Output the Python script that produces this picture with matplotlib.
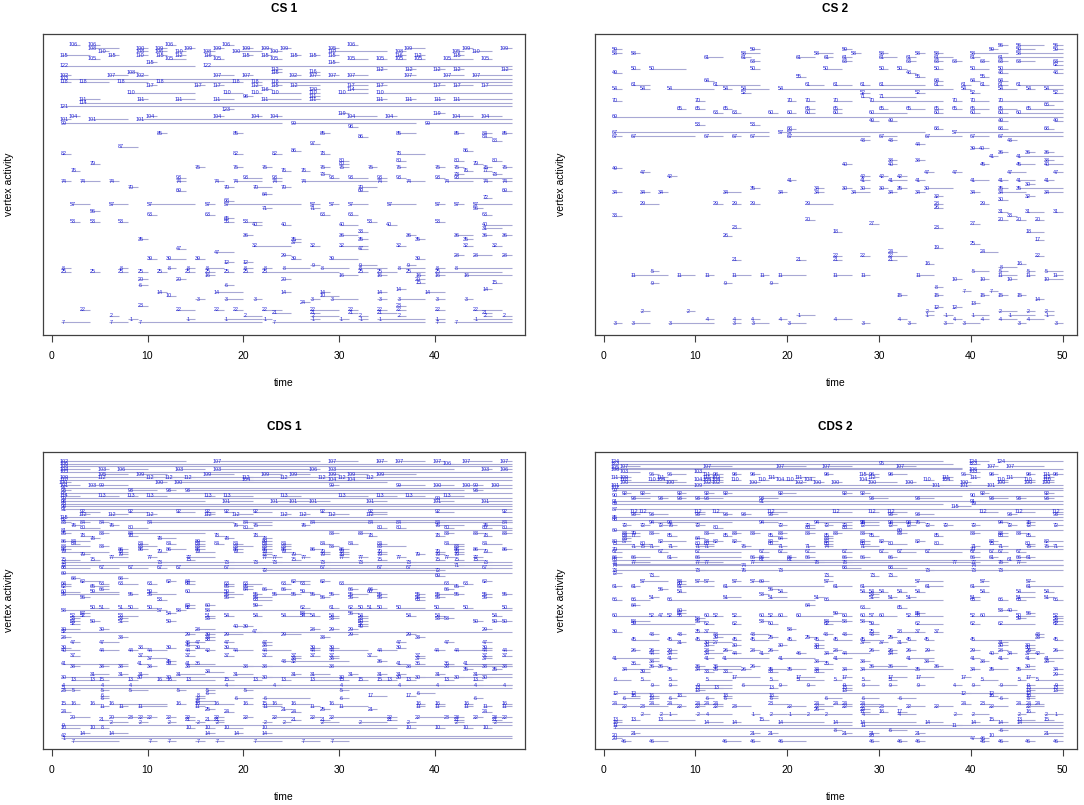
import matplotlib
matplotlib.use('Agg')
import matplotlib.pyplot as plt
from matplotlib.collections import LineCollection

plt.rcParams['font.family'] = ['Liberation Sans', 'DejaVu Sans']

W, H = 1084, 805

# spells: (row from top, vertex id, onset, terminus)
cs1_spells = [
    (0, 106, 2, 3), (0, 106, 4, 5), (0, 106, 12, 13), (0, 106, 18, 19), (0, 106, 31, 32),
    (1, 108, 4, 7), (1, 100, 9, 10), (1, 109, 11, 12), (1, 109, 14, 15), (1, 109, 17, 18), (1, 109, 20, 21),
    (1, 109, 22, 23), (1, 109, 24, 25), (1, 105, 29, 30), (1, 109, 37, 39), (1, 109, 43, 44), (1, 109, 47, 48),
    (1.9, 110, 5, 6), (1.9, 108, 9, 10), (1.9, 106, 11, 12), (1.9, 110, 13, 14), (1.9, 108, 16, 17), (1.9, 100, 19, 22),
    (1.9, 100, 23, 24), (1.9, 110, 29, 35), (1.9, 108, 36, 37), (1.9, 105, 42, 43), (1.9, 110, 44, 46),
    (3, 115, 1, 4), (3, 115, 6, 7), (3, 110, 9, 10), (3, 115, 11, 12), (3, 112, 13, 14), (3, 116, 16, 17),
    (3, 115, 20, 21), (3, 115, 22, 23), (3, 115, 25, 26), (3, 115, 27, 28), (3, 115, 29, 30), (3, 116, 36, 37),
    (3, 112, 38, 39), (3, 115, 42, 43),
    (4, 105, 4, 5), (4, 105, 12, 14), (4, 105, 17, 18), (4, 105, 23, 24), (4, 105, 31, 33), (4, 105, 34, 35),
    (4, 105, 36, 37), (4, 105, 38, 39), (4, 105, 41, 44), (4, 105, 45, 46),
    (5, 115, 10, 11), (5, 115, 29, 30),
    (6, 122, 1, 15), (6, 122, 16, 48),
    (7.1, 112, 23, 24), (7.1, 112, 34, 35), (7.1, 112, 37, 38), (7.1, 112, 40, 41), (7.1, 112, 42, 43), (7.1, 112, 47, 48),
    (8, 116, 23, 24), (7.8, 116, 27, 28), (8, 108, 8, 9),
    (8.8, 102, 1, 2), (8.8, 107, 6, 8), (8.8, 102, 9, 10), (8.8, 107, 17, 19), (8.8, 107, 20, 21), (8.8, 102, 25, 26),
    (8.8, 107, 27, 28), (8.8, 107, 29, 30), (8.8, 107, 31, 33), (8.8, 107, 37, 38), (8.8, 107, 41, 43), (8.8, 107, 44, 48),
    (9.8, 103, 1, 48),
    (10.8, 118, 1, 2), (10.8, 118, 3, 6), (10.8, 118, 7, 10), (10.8, 118, 11, 19), (10.8, 118, 19, 20), (10.8, 118, 21, 22),
    (10.8, 118, 23, 48),
    (11.8, 117, 10, 11), (11.8, 117, 15, 16), (11.8, 117, 17, 18), (11.8, 112, 21, 22), (11.8, 115, 23, 24), (11.8, 112, 25, 28),
    (11.8, 117, 31, 33), (11.8, 117, 34, 35), (11.8, 117, 40, 41), (11.8, 117, 42, 44), (11.8, 117, 45, 48),
    (12.9, 116, 22, 23), (12.9, 120, 27, 28), (12.9, 114, 31, 33),
    (13.9, 110, 8, 15), (13.9, 110, 18, 20), (13.9, 110, 21, 22), (13.9, 110, 23, 26), (13.9, 110, 27, 28), (13.9, 110, 30, 33),
    (13.9, 110, 34, 48),
    (15, 98, 20, 21), (15, 111, 27, 28),
    (15.9, 111, 3, 5), (15.9, 111, 9, 10), (15.9, 111, 13, 15), (15.9, 111, 17, 19), (15.9, 111, 22, 26), (15.9, 111, 27, 28),
    (15.9, 111, 34, 35), (15.9, 111, 37, 38), (15.9, 111, 40, 41), (15.9, 111, 42, 48),
    (16.8, 114, 3, 48),
    (17.9, 121, 1, 48),
    (18.8, 123, 18, 19),
    (19.9, 119, 30, 31), (19.9, 119, 40, 41),
    (20.8, 104, 2, 3), (20.8, 104, 10, 11), (20.8, 104, 17, 18), (20.8, 104, 21, 22), (20.8, 104, 23, 24), (20.8, 104, 31, 34),
    (20.8, 104, 35, 36), (20.8, 104, 42, 44), (20.8, 104, 45, 47),
    (21.7, 101, 1, 2), (21.7, 101, 4, 8), (21.7, 101, 9, 48),
    (22.8, 99, 1, 24), (22.8, 99, 25, 38), (22.8, 99, 39, 48),
    (23.8, 98, 31, 32),
    (25.8, 85, 11, 12), (25.8, 85, 19, 20), (25.8, 85, 28, 29), (25.8, 85, 36, 38), (25.8, 85, 42, 43), (25.8, 84, 45, 46),
    (25.8, 85, 47, 48),
    (26.8, 86, 32, 33), (26.8, 84, 45, 46),
    (27.9, 88, 46, 47),
    (28.8, 97, 27, 28),
    (29.7, 87, 7, 9),
    (30.8, 86, 25, 26), (30.8, 86, 43, 44),
    (31.7, 82, 1, 2), (31.7, 82, 19, 20), (31.7, 82, 23, 24), (31.7, 78, 28, 29), (31.7, 78, 36, 39),
    (33.7, 80, 30, 31), (33.7, 80, 36, 37), (33.7, 80, 42, 43), (33.7, 80, 46, 47),
    (34.7, 79, 4, 5), (34.7, 80, 30, 31), (34.7, 79, 44, 45),
    (35.7, 75, 15, 16), (35.7, 75, 19, 20), (35.7, 75, 22, 23), (35.7, 75, 28, 29), (35.7, 75, 30, 31), (35.7, 75, 33, 34),
    (35.7, 75, 36, 37), (35.7, 75, 40, 41), (35.7, 75, 42, 43), (35.7, 75, 45, 46), (35.7, 75, 47, 48),
    (36.7, 76, 2, 3), (36.7, 76, 24, 25), (36.7, 76, 26, 27), (36.7, 76, 43, 44), (36.7, 77, 45, 46),
    (37.7, 73, 28, 29), (37.7, 73, 42, 43), (37.7, 73, 46, 47),
    (38.7, 93, 13, 14), (38.7, 93, 20, 22), (38.7, 93, 23, 24), (38.7, 93, 29, 30), (38.7, 93, 31, 33), (38.7, 93, 34, 35),
    (38.7, 93, 36, 37), (38.7, 93, 40, 41), (38.7, 93, 42, 48),
    (39.7, 74, 1, 2), (39.7, 74, 3, 5), (39.7, 74, 6, 7), (39.7, 74, 13, 14), (39.7, 74, 17, 18), (39.7, 74, 19, 22),
    (39.7, 74, 23, 24), (39.7, 74, 26, 34), (39.7, 74, 34, 35), (39.7, 74, 37, 39), (39.7, 74, 41, 44), (39.7, 74, 45, 46),
    (39.7, 74, 47, 48),
    (41.5, 70, 8, 9), (41.5, 70, 18, 19), (41.5, 70, 21, 23), (41.5, 70, 24, 25), (41.5, 70, 32, 34),
    (42.5, 69, 13, 14), (42.5, 69, 32, 33), (42.5, 69, 47, 48),
    (43.5, 64, 22, 23),
    (44.6, 72, 45, 46),
    (45.5, 68, 18, 19),
    (46.5, 57, 2, 4), (46.5, 57, 6, 8), (46.5, 57, 10, 15), (46.5, 57, 16, 17), (46.5, 57, 18, 26), (46.5, 57, 27, 28),
    (46.5, 57, 29, 30), (46.5, 57, 31, 33), (46.5, 57, 35, 38), (46.5, 57, 40, 41), (46.5, 57, 42, 43), (46.5, 57, 44, 48),
    (47.6, 71, 22, 23), (47.6, 71, 27, 28), (47.6, 56, 44, 45),
    (48.5, 56, 4, 5),
    (49.5, 63, 10, 11), (49.5, 63, 16, 17), (49.5, 63, 28, 29), (49.5, 63, 31, 32), (49.5, 63, 45, 46),
    (50.5, 65, 18, 19),
    (51.5, 53, 2, 3), (51.5, 53, 4, 5), (51.5, 53, 7, 8), (51.5, 55, 18, 19), (51.5, 53, 20, 22), (51.5, 53, 33, 34),
    (51.5, 53, 40, 41),
    (52.5, 40, 21, 22), (52.5, 40, 24, 25), (52.5, 40, 30, 32), (52.5, 40, 35, 36), (52.5, 40, 45, 48),
    (53.5, 31, 45, 47),
    (54.5, 33, 32, 33),
    (55.5, 36, 20, 21), (55.5, 36, 30, 32), (55.5, 36, 37, 38), (55.5, 36, 42, 44), (55.5, 36, 45, 46), (55.5, 36, 47, 48),
    (56.6, 35, 9, 10), (56.6, 35, 25, 26), (56.6, 35, 32, 33), (56.6, 35, 38, 39), (56.6, 35, 43, 44),
    (57.6, 37, 25, 26),
    (58.5, 32, 21, 25), (58.5, 32, 27, 28), (58.5, 32, 30, 33), (58.5, 32, 36, 37), (58.5, 32, 43, 44), (58.5, 32, 46, 47),
    (59.5, 47, 13, 14), (59.5, 47, 32, 33),
    (60.5, 47, 17, 19),
    (61.4, 29, 24, 25), (61.4, 28, 42, 43), (61.4, 28, 44, 46), (61.4, 28, 47, 48),
    (62.3, 39, 10, 11), (62.3, 39, 12, 14), (62.3, 39, 15, 16), (62.3, 39, 25, 26), (62.3, 39, 29, 32), (62.3, 39, 38, 39),
    (63.4, 12, 18, 19), (63.4, 12, 20, 21),
    (64.2, 9, 27, 28), (64.2, 9, 32, 34), (64.2, 9, 37, 38),
    (65.2, 8, 1, 2), (65.2, 8, 7, 8), (65.2, 8, 12, 13), (65.2, 8, 14, 15), (65.2, 8, 16, 18), (65.2, 8, 20, 21),
    (65.2, 8, 22, 23), (65.2, 8, 24, 27), (65.2, 8, 28, 31), (65.2, 8, 32, 35), (65.2, 8, 36, 39), (65.2, 8, 40, 41),
    (65.2, 8, 42, 48),
    (66.2, 25, 1, 2), (66.2, 25, 4, 5), (66.2, 25, 7, 8), (66.2, 25, 9, 10), (66.2, 25, 11, 12), (66.2, 25, 14, 15),
    (66.2, 25, 16, 17), (66.2, 25, 18, 19), (66.2, 25, 20, 21), (66.2, 25, 22, 30), (66.2, 25, 32, 33), (66.2, 25, 34, 36),
    (66.2, 25, 37, 39), (66.2, 25, 40, 47),
    (67.2, 16, 16, 17), (67.2, 16, 30, 32), (67.2, 16, 34, 35), (67.2, 16, 38, 39), (67.2, 16, 40, 41), (67.2, 16, 43, 48),
    (68.3, 20, 9, 10), (68.3, 20, 13, 14), (68.3, 20, 24, 25), (68.3, 20, 38, 39),
    (69.3, 15, 38, 39), (69.3, 15, 46, 47),
    (70.1, 6, 9, 10), (70.1, 6, 18, 19),
    (71.2, 14, 36, 37), (71.2, 14, 45, 46),
    (72.2, 14, 11, 12), (72.2, 14, 17, 20), (72.2, 14, 24, 25), (72.2, 14, 28, 29), (72.2, 14, 34, 35), (72.2, 14, 39, 41),
    (73.1, 10, 12, 13), (73.1, 10, 28, 30),
    (74.1, 3, 15, 16), (74.1, 3, 18, 20), (74.1, 3, 21, 22), (74.1, 3, 27, 28), (74.1, 3, 29, 32), (74.1, 3, 34, 35),
    (74.1, 3, 36, 39), (74.1, 3, 40, 41), (74.1, 3, 43, 44),
    (75.1, 24, 26, 27),
    (76.1, 23, 9, 10), (76.1, 23, 36, 37),
    (77.2, 22, 3, 4), (77.2, 22, 13, 15), (77.2, 22, 17, 18), (77.2, 22, 19, 20), (77.2, 22, 22, 24), (77.2, 22, 27, 30),
    (77.2, 22, 31, 32), (77.2, 22, 34, 35), (77.2, 22, 36, 37), (77.2, 22, 40, 41), (77.2, 22, 44, 47),
    (78.1, 21, 23, 25), (78.1, 21, 27, 28), (78.1, 21, 31, 32), (78.1, 21, 34, 36), (78.1, 21, 45, 46),
    (79, 2, 6, 7), (79, 2, 20, 22), (79, 2, 27, 30), (79, 2, 32, 33), (79, 2, 36, 37), (79, 2, 45, 46), (79, 2, 47, 48),
    (80, 1, 8, 9), (80, 1, 14, 15), (80, 1, 18, 22), (80, 1, 22, 23), (80, 1, 27, 28), (80, 1, 30, 31), (80, 1, 32, 33),
    (80, 1, 34, 39), (80, 1, 40, 41), (80, 1, 44, 48),
    (80.9, 7, 1, 4), (80.9, 7, 6, 8), (80.9, 7, 9, 22), (80.9, 7, 23, 39), (80.9, 7, 40, 41), (80.9, 7, 42, 48),
]

cs2_spells = [
    (0, 56, 43, 44), (0, 56, 45, 48), (0, 56, 49, 50),
    (1, 59, 1, 2), (1, 59, 16, 17), (1, 59, 26, 27), (1, 59, 42, 43), (1, 59, 45, 47), (1, 59, 49, 50),
    (2, 58, 1, 2), (2, 58, 3, 4), (2, 58, 15, 17), (2, 58, 23, 25), (2, 58, 27, 28), (2, 58, 30, 31), (2, 58, 34, 35),
    (2, 58, 36, 37), (2, 58, 40, 44), (2, 58, 45, 50),
    (3, 61, 11, 13), (3, 61, 15, 16), (3, 61, 21, 23), (3, 61, 24, 25), (3, 61, 26, 27), (3, 61, 30, 32), (3, 61, 33, 34),
    (3, 61, 36, 38), (3, 61, 40, 41), (3, 61, 43, 50),
    (4, 63, 16, 17), (4, 63, 26, 27), (4, 63, 33, 34), (4, 63, 36, 37), (4, 63, 38, 39), (4, 63, 41, 42), (4, 63, 43, 44),
    (4, 63, 45, 47), (4, 63, 49, 50),
    (5, 62, 49, 50),
    (6, 50, 3, 4), (6, 50, 5, 9), (6, 50, 16, 17), (6, 50, 24, 26), (6, 50, 30, 31), (6, 50, 32, 33), (6, 50, 36, 37),
    (6, 50, 40, 42), (6, 50, 43, 50),
    (7, 49, 1, 2), (7, 48, 33, 34), (7, 48, 43, 44), (7, 48, 49, 50),
    (8, 55, 21, 22), (8, 55, 34, 35), (8, 55, 41, 42),
    (9, 64, 11, 12), (9, 64, 36, 37), (9, 64, 40, 41), (9, 64, 43, 44),
    (10, 61, 3, 5), (10, 61, 12, 17), (10, 61, 22, 24), (10, 61, 25, 27), (10, 61, 28, 29), (10, 61, 30, 35),
    (10, 61, 36, 37), (10, 61, 39, 40), (10, 61, 41, 42), (10, 61, 43, 44), (10, 61, 45, 50),
    (11, 54, 1, 2), (11, 54, 4, 5), (11, 54, 7, 12), (11, 54, 13, 14), (11, 54, 15, 18), (11, 54, 19, 38),
    (11, 54, 39, 40), (11, 54, 43, 45), (11, 54, 46, 47), (11, 54, 48, 50),
    (12, 52, 15, 16), (12, 52, 28, 29), (12, 52, 34, 35), (12, 52, 40, 41), (12, 52, 49, 50),
    (13, 71, 28, 29), (13, 71, 30, 34),
    (14, 70, 1, 2), (14, 70, 10, 11), (14, 70, 20, 21), (14, 70, 22, 23), (14, 70, 25, 27), (14, 70, 29, 37),
    (14, 70, 38, 39), (14, 70, 40, 42), (14, 70, 43, 50),
    (15, 66, 48, 49),
    (16, 65, 8, 9), (16, 65, 10, 11), (16, 65, 13, 14), (16, 65, 22, 23), (16, 65, 25, 26), (16, 65, 30, 31),
    (16, 65, 33, 35), (16, 65, 36, 37), (16, 65, 38, 39), (16, 65, 40, 42), (16, 65, 43, 45), (16, 65, 46, 50),
    (17, 63, 12, 13), (17, 63, 14, 15), (17, 60, 18, 19), (17, 60, 20, 21), (17, 60, 22, 23), (17, 60, 25, 26),
    (17, 60, 29, 33), (17, 60, 36, 37), (17, 60, 40, 41), (17, 60, 43, 44), (17, 60, 45, 50),
    (18, 69, 1, 50),
    (19, 49, 29, 30), (19, 49, 31, 32), (19, 49, 43, 44), (19, 49, 49, 50),
    (20, 53, 10, 11), (20, 53, 16, 17),
    (21, 68, 20, 21), (21, 68, 36, 37), (21, 68, 43, 44), (21, 68, 48, 49),
    (22, 67, 1, 18), (22, 57, 19, 20), (22, 57, 20, 35), (22, 57, 38, 50),
    (23, 67, 1, 2), (23, 67, 3, 10), (23, 67, 11, 13), (23, 67, 14, 15), (23, 67, 16, 18), (23, 67, 20, 29),
    (23, 67, 30, 32), (23, 67, 35, 39), (23, 67, 40, 42), (23, 67, 43, 50),
    (24, 43, 28, 29), (24, 43, 31, 32), (24, 43, 44, 45),
    (25, 44, 34, 35),
    (26, 39, 40, 41), (26, 40, 41, 42),
    (27, 36, 43, 44), (27, 36, 46, 47), (27, 36, 48, 49),
    (28, 41, 42, 43), (28, 41, 45, 50),
    (29, 38, 31, 32), (29, 38, 34, 35), (29, 38, 48, 49),
    (30, 40, 26, 27), (30, 40, 31, 32), (30, 45, 41, 42), (30, 45, 45, 47), (30, 40, 48, 50),
    (31, 49, 1, 2),
    (32, 47, 4, 5), (32, 47, 35, 36), (32, 47, 38, 39), (32, 47, 44, 46), (32, 47, 49, 50),
    (33, 42, 7, 8), (33, 42, 28, 29), (33, 42, 30, 31), (33, 42, 32, 33),
    (34, 41, 20, 21), (34, 41, 28, 29), (34, 41, 31, 33), (34, 41, 34, 35), (34, 41, 40, 42), (34, 41, 43, 44),
    (34, 41, 45, 47), (34, 41, 48, 49),
    (35, 30, 46, 47),
    (36, 35, 16, 17), (36, 34, 23, 24), (36, 30, 26, 27), (36, 30, 28, 29), (36, 30, 30, 31), (36, 35, 32, 33),
    (36, 30, 35, 38), (36, 35, 43, 44), (36, 35, 45, 50),
    (37, 34, 1, 2), (37, 34, 4, 5), (37, 34, 6, 7), (37, 34, 13, 15), (37, 34, 19, 20), (37, 34, 23, 24),
    (37, 34, 27, 29), (37, 34, 31, 32), (37, 34, 34, 35), (37, 34, 40, 41), (37, 34, 43, 46), (37, 34, 48, 50),
    (38, 32, 36, 37), (38, 32, 46, 47),
    (39, 30, 43, 44),
    (40, 29, 4, 6), (40, 29, 12, 13), (40, 29, 14, 15), (40, 29, 16, 17), (40, 29, 22, 25), (40, 28, 36, 37),
    (40, 29, 41, 42),
    (41, 26, 36, 37),
    (42, 31, 43, 44), (42, 31, 46, 48), (42, 31, 49, 50),
    (43, 33, 1, 2), (43, 33, 44, 45),
    (44, 20, 22, 23), (44, 20, 43, 44), (44, 20, 45, 46), (44, 20, 47, 48),
    (45, 27, 29, 30), (45, 27, 40, 41),
    (46, 23, 14, 15), (46, 23, 36, 37),
    (47, 18, 25, 26), (47, 18, 46, 48),
    (48, 26, 13, 14),
    (49, 17, 47, 48),
    (50, 25, 40, 41),
    (51, 19, 36, 37),
    (52, 24, 41, 43), (52, 24, 31, 32),
    (53, 22, 25, 26), (53, 22, 28, 29), (53, 22, 31, 33), (53, 22, 47, 48),
    (54, 21, 14, 15), (54, 21, 21, 22), (54, 21, 25, 26), (54, 21, 31, 32),
    (55, 16, 35, 36), (55, 16, 45, 46),
    (56, 8, 43, 45),
    (57, 5, 5, 6), (57, 5, 40, 42), (57, 5, 43, 44), (57, 5, 46, 47), (57, 5, 48, 50),
    (58, 11, 3, 7), (58, 11, 8, 10), (58, 11, 11, 12), (58, 11, 14, 16), (58, 11, 17, 18), (58, 11, 19, 22),
    (58, 11, 25, 27), (58, 11, 28, 29), (58, 11, 34, 36), (58, 11, 43, 45), (58, 11, 46, 47), (58, 11, 49, 50),
    (59, 10, 38, 39), (59, 10, 41, 42), (59, 10, 44, 45), (59, 10, 48, 50),
    (60, 9, 5, 6), (60, 9, 13, 14), (60, 9, 18, 19),
    (61, 8, 36, 37),
    (62, 7, 39, 40), (62, 7, 42, 43),
    (63, 15, 32, 33), (63, 15, 36, 37), (63, 15, 41, 42), (63, 15, 43, 44), (63, 15, 45, 46),
    (64, 14, 47, 48),
    (65, 13, 40, 41),
    (66, 12, 36, 37), (66, 12, 38, 39),
    (67, 2, 4, 5), (67, 2, 9, 10), (67, 2, 35, 36), (67, 2, 43, 45), (67, 2, 46, 47), (67, 2, 48, 49),
    (68, 1, 21, 23), (68, 1, 35, 36), (68, 1, 37, 38), (68, 1, 40, 42), (68, 1, 44, 47), (68, 1, 48, 49),
    (69, 4, 11, 12), (69, 4, 14, 15), (69, 4, 16, 17), (69, 4, 19, 20), (69, 4, 25, 27), (69, 4, 32, 33),
    (69, 4, 38, 39), (69, 4, 41, 42), (69, 4, 43, 45), (69, 4, 46, 48),
    (70, 3, 1, 2), (70, 3, 3, 5), (70, 3, 7, 12), (70, 3, 14, 15), (70, 3, 16, 18), (70, 3, 20, 22), (70, 3, 28, 29),
    (70, 3, 33, 34), (70, 3, 37, 38), (70, 3, 39, 41), (70, 3, 45, 46), (70, 3, 49, 50),
]

cds1_spells = [
    (0, 102, 1, 14), (0, 107, 17, 28), (0, 107, 29, 32), (0, 107, 34, 35), (0, 107, 36, 39), (0, 107, 40, 41),
    (0, 107, 43, 46), (0, 107, 47, 48),
    (1, 106, 1, 48), (1, 106, 41, 42),
    (2, 108, 1, 48),
    (3, 104, 1, 4), (3, 103, 5, 6), (3, 106, 7, 10), (3, 103, 13, 16), (3, 103, 17, 27), (3, 106, 27, 28),
    (3, 103, 29, 42), (3, 103, 45, 46), (3, 106, 47, 48),
    (4, 105, 1, 48),
    (5, 105, 5, 8), (5, 109, 9, 12), (5, 109, 16, 19), (5, 109, 22, 24), (5, 109, 25, 27), (5, 109, 29, 30),
    (5, 109, 31, 33), (5, 109, 34, 38),
    (6, 109, 1, 48), (6, 112, 5, 6), (6, 112, 10, 11), (6, 112, 12, 13), (6, 112, 14, 15), (6, 112, 20, 21),
    (6, 112, 24, 25), (6, 112, 28, 29), (6, 112, 30, 31), (6, 112, 33, 34),
    (7, 110, 1, 48), (7, 104, 20, 21), (7, 104, 29, 30), (7, 104, 31, 32),
    (8, 100, 1, 2), (8, 100, 11, 12), (8, 100, 13, 35),
    (9, 101, 1, 3), (9, 103, 4, 5), (9, 99, 5, 8), (9, 99, 29, 30), (9, 99, 36, 39), (9, 100, 40, 42),
    (9, 100, 43, 44), (9, 99, 44, 45), (9, 100, 46, 48),
    (10, 97, 1, 48),
    (11, 93, 1, 2), (11, 93, 8, 11), (11, 93, 12, 13), (11, 93, 14, 43), (11, 93, 44, 45),
    (12, 96, 1, 48),
    (13, 114, 1, 3), (13, 113, 5, 7), (13, 113, 8, 9), (13, 113, 10, 12), (13, 113, 16, 17), (13, 113, 18, 21),
    (13, 113, 24, 26), (13, 113, 30, 33), (13, 113, 34, 36), (13, 113, 37, 39), (13, 113, 41, 43),
    (14, 99, 1, 48), (14, 99, 40, 41),
    (15, 98, 1, 16), (15, 101, 18, 21), (15, 101, 23, 25), (15, 101, 25, 27), (15, 101, 27, 29), (15, 101, 33, 35),
    (15, 101, 40, 42), (15, 101, 45, 48),
    (16, 95, 1, 48),
    (17, 94, 1, 48),
    (18, 91, 1, 48),
    (19, 92, 3, 5), (19, 92, 8, 10), (19, 92, 13, 15), (19, 92, 16, 17), (19, 92, 18, 19), (19, 92, 21, 23),
    (19, 92, 28, 29), (19, 92, 33, 35), (19, 92, 40, 42), (19, 92, 47, 48),
    (20, 112, 3, 4), (20, 112, 6, 8), (20, 112, 10, 11), (20, 112, 16, 17), (20, 112, 19, 21), (20, 112, 24, 25),
    (20, 112, 26, 27), (20, 112, 29, 31), (20, 112, 33, 35),
    (21, 115, 1, 48),
    (22, 82, 1, 48),
    (23, 83, 1, 2), (23, 84, 3, 4), (23, 84, 5, 6), (23, 84, 10, 19), (23, 84, 20, 23), (23, 84, 27, 48),
    (23, 84, 33, 34), (23, 84, 36, 37), (23, 84, 40, 41), (23, 84, 47, 48),
    (24, 76, 2, 3), (24, 76, 6, 7), (24, 76, 19, 20), (24, 75, 21, 23), (24, 76, 26, 27), (24, 76, 40, 43),
    (24, 76, 45, 47),
    (25, 80, 3, 5), (25, 80, 8, 10), (25, 80, 20, 21), (25, 80, 34, 35), (25, 80, 36, 37), (25, 80, 41, 42),
    (25, 80, 45, 46), (25, 80, 47, 48),
    (26, 81, 1, 48),
    (27, 85, 1, 2), (27, 83, 5, 6), (27, 84, 8, 16), (27, 83, 29, 30), (27, 83, 32, 33), (27, 83, 41, 42),
    (27, 83, 44, 45), (27, 83, 47, 48),
    (28, 78, 3, 4), (28, 78, 8, 9), (28, 78, 17, 18), (28, 78, 21, 22), (28, 78, 33, 34), (28, 78, 40, 41),
    (28, 78, 45, 46),
    (29, 78, 4, 5), (29, 78, 11, 13), (29, 78, 18, 19), (29, 78, 22, 23),
    (30, 86, 1, 4), (30, 84, 2, 3), (30, 89, 15, 16), (30, 89, 22, 23),
    (31, 84, 2, 3), (31, 84, 9, 10), (31, 84, 12, 13), (31, 84, 15, 16), (31, 84, 17, 18), (31, 84, 19, 20),
    (31, 84, 22, 23), (31, 84, 24, 25), (31, 84, 28, 29), (31, 84, 31, 32), (31, 84, 34, 35), (31, 84, 41, 43),
    (31, 84, 45, 47),
    (32, 88, 1, 4), (32, 83, 5, 6), (32, 83, 9, 11), (32, 83, 15, 16), (32, 83, 19, 21), (32, 83, 22, 23),
    (32, 83, 24, 25), (32, 83, 29, 30), (32, 83, 34, 37), (32, 83, 42, 43),
    (33, 86, 1, 2), (33, 86, 7, 8), (33, 86, 9, 10), (33, 86, 12, 14), (33, 86, 15, 16), (33, 86, 19, 20),
    (33, 86, 22, 23), (33, 86, 24, 25), (33, 86, 27, 28), (33, 86, 30, 31), (33, 86, 42, 43), (33, 86, 44, 45),
    (33, 86, 47, 48),
    (34, 79, 1, 6), (34, 79, 7, 8), (34, 79, 11, 12), (34, 79, 15, 17), (34, 79, 19, 20), (34, 79, 22, 23),
    (34, 79, 24, 25), (34, 79, 28, 29), (34, 79, 30, 31), (34, 79, 34, 35), (34, 79, 40, 41), (34, 79, 42, 43),
    (34, 79, 45, 46),
    (35, 79, 3, 4), (35, 79, 7, 8), (35, 77, 22, 23), (35, 79, 25, 26), (35, 79, 28, 29), (35, 79, 30, 31),
    (35, 79, 34, 35), (35, 79, 38, 39), (35, 79, 40, 41), (35, 79, 42, 43),
    (36, 77, 6, 8), (36, 77, 10, 11), (36, 77, 14, 17), (36, 77, 22, 23), (36, 77, 23, 24), (36, 77, 26, 27),
    (36, 77, 30, 31), (36, 77, 32, 33), (36, 77, 36, 37), (36, 77, 41, 42), (36, 77, 44, 45),
    (37, 75, 1, 3), (37, 75, 4, 5), (37, 75, 14, 15), (37, 75, 25, 26), (37, 75, 34, 35), (37, 75, 40, 41),
    (37, 75, 42, 43), (37, 75, 44, 45),
    (38, 73, 1, 48), (38, 73, 11, 12), (38, 73, 18, 19), (38, 73, 21, 22), (38, 73, 23, 24), (38, 73, 28, 29),
    (38, 73, 32, 33), (38, 73, 37, 38), (38, 73, 45, 46),
    (39, 72, 1, 48), (39, 71, 42, 43),
    (40, 68, 1, 4), (40, 67, 5, 7), (40, 67, 8, 10), (40, 67, 11, 12), (40, 67, 13, 48), (40, 67, 18, 19),
    (40, 67, 28, 29), (40, 67, 34, 35), (40, 67, 37, 38), (40, 67, 45, 46),
    (41, 72, 22, 40), (41, 72, 40, 41),
    (42, 69, 1, 48),
    (43, 69, 40, 41),
    (44, 68, 2, 3), (44, 68, 7, 8),
    (45, 62, 3, 5), (45, 62, 12, 13), (45, 64, 14, 15), (45, 62, 25, 27), (45, 62, 28, 29), (45, 62, 45, 46),
    (46, 64, 1, 2), (46, 63, 5, 6), (46, 63, 7, 9), (46, 63, 10, 11), (46, 64, 14, 15), (46, 63, 18, 19),
    (46, 63, 20, 22), (46, 63, 24, 25), (46, 63, 26, 27), (46, 63, 30, 41), (46, 63, 41, 42), (46, 63, 43, 44),
    (47, 62, 1, 2), (47, 65, 4, 6), (47, 65, 18, 19), (47, 65, 20, 21), (47, 65, 42, 43),
    (48, 66, 5, 6), (48, 66, 22, 23), (48, 66, 24, 25), (48, 66, 31, 32), (48, 66, 33, 34), (48, 66, 41, 42),
    (48, 64, 20, 21),
    (49, 60, 1, 3), (49, 59, 4, 7), (49, 59, 10, 11), (49, 60, 14, 18), (49, 59, 18, 19), (49, 59, 26, 27),
    (49, 60, 33, 34),
    (50, 55, 1, 7), (50, 55, 8, 9), (50, 55, 10, 13), (50, 55, 18, 20), (50, 55, 21, 22), (50, 55, 23, 25),
    (50, 55, 25, 26), (50, 55, 27, 28), (50, 55, 29, 30), (50, 55, 31, 33), (50, 55, 34, 35), (50, 55, 38, 39),
    (50, 55, 40, 42), (50, 55, 42, 43), (50, 55, 45, 46), (50, 55, 47, 48),
    (51, 56, 3, 4), (51, 56, 18, 19), (51, 56, 21, 23), (51, 56, 28, 29), (51, 56, 31, 32), (51, 56, 34, 35),
    (51, 56, 38, 39), (51, 56, 40, 41), (51, 56, 45, 46),
    (52, 53, 11, 12), (52, 63, 21, 23), (52, 65, 38, 39),
    (54, 59, 21, 22), (54, 62, 14, 15), (54, 60, 16, 17),
    (55, 50, 4, 5), (55, 51, 5, 6), (55, 51, 7, 8), (55, 50, 8, 9), (55, 50, 10, 11), (55, 62, 14, 15),
    (55, 62, 26, 27), (55, 61, 29, 30), (55, 62, 31, 32), (55, 50, 32, 33), (55, 51, 33, 34), (55, 50, 34, 35),
    (55, 50, 36, 39), (55, 50, 40, 42), (55, 50, 43, 44), (55, 50, 47, 48),
    (56, 58, 1, 11), (56, 57, 11, 12), (56, 58, 13, 14), (56, 58, 16, 48),
    (57, 57, 3, 4), (57, 54, 12, 13), (57, 58, 26, 27), (57, 56, 31, 32),
    (58, 52, 2, 3), (58, 52, 3, 4), (58, 53, 7, 9), (58, 51, 16, 17), (58, 54, 18, 19), (58, 54, 21, 22),
    (58, 54, 24, 26), (58, 54, 26, 27), (58, 54, 27, 28), (58, 54, 29, 30), (58, 54, 32, 33), (58, 54, 37, 38),
    (58, 54, 40, 41), (58, 54, 46, 47),
    (59, 53, 2, 3), (59, 53, 7, 8), (59, 53, 16, 17), (59, 53, 29, 30), (59, 53, 32, 33), (59, 53, 40, 41),
    (59, 53, 41, 42),
    (60, 53, 2, 3), (60, 50, 4, 5), (60, 51, 7, 8), (60, 50, 12, 13), (60, 50, 32, 33), (60, 50, 44, 45),
    (60, 50, 46, 47), (60, 50, 47, 48),
    (61, 52, 2, 3), (61, 52, 32, 33),
    (62, 49, 32, 33), (62, 40, 19, 20), (62, 39, 20, 21),
    (63, 30, 1, 3), (63, 30, 5, 6), (63, 28, 15, 17), (63, 28, 27, 28), (63, 29, 29, 30), (63, 29, 31, 32),
    (63, 29, 45, 46),
    (64, 32, 1, 48), (64, 47, 21, 22),
    (65, 29, 14, 15), (65, 39, 16, 17), (65, 29, 18, 20), (65, 29, 24, 26), (65, 29, 31, 32), (65, 29, 37, 38),
    (66, 28, 1, 2), (66, 33, 7, 8), (66, 33, 16, 17), (66, 33, 28, 29), (66, 33, 38, 39),
    (67, 38, 16, 17),
    (68, 47, 2, 3), (68, 47, 5, 7), (68, 46, 14, 15), (68, 47, 15, 16), (68, 47, 18, 19), (68, 47, 22, 23),
    (68, 47, 36, 37), (68, 47, 41, 42), (68, 47, 45, 46),
    (69, 45, 14, 15), (69, 38, 22, 23),
    (70, 39, 1, 2), (70, 38, 9, 10), (70, 39, 12, 13), (70, 39, 15, 16), (70, 39, 18, 19), (70, 39, 27, 28),
    (70, 39, 29, 30), (70, 39, 36, 37), (70, 39, 45, 46),
    (71, 40, 1, 3), (71, 44, 5, 7), (71, 44, 8, 9), (71, 44, 10, 12), (71, 44, 14, 15), (71, 42, 16, 17),
    (71, 44, 19, 21), (71, 44, 22, 25), (71, 44, 27, 28), (71, 44, 29, 33), (71, 44, 34, 36), (71, 44, 40, 41),
    (71, 44, 42, 45), (71, 44, 45, 46), (71, 44, 47, 48),
    (73, 37, 2, 3), (73, 37, 9, 10), (73, 37, 14, 15), (73, 37, 18, 19), (73, 37, 22, 23), (73, 37, 25, 26),
    (73, 37, 27, 28), (73, 37, 29, 30), (73, 37, 33, 34), (73, 37, 38, 39), (73, 37, 45, 46), (73, 37, 47, 48),
    (74, 37, 10, 12), (74, 38, 25, 26), (74, 38, 29, 30), (74, 37, 38, 39), (74, 37, 45, 46),
    (75, 43, 24, 25), (75, 32, 25, 31), (75, 35, 12, 13), (75, 36, 34, 35),
    (76, 41, 1, 8), (76, 41, 9, 10), (76, 39, 12, 13), (76, 41, 14, 15), (76, 36, 15, 17), (76, 41, 36, 37),
    (76, 36, 38, 39), (76, 36, 41, 42), (76, 41, 43, 48),
    (77, 38, 2, 3), (77, 38, 5, 6), (77, 38, 7, 8), (77, 38, 10, 11), (77, 38, 14, 48), (77, 38, 20, 21),
    (77, 38, 22, 23), (77, 38, 29, 35), (77, 38, 37, 38), (77, 38, 41, 42), (77, 38, 45, 46), (77, 38, 47, 48),
    (78, 35, 43, 44), (78, 35, 46, 47),
    (79, 34, 16, 18),
    (80, 31, 4, 6), (80, 31, 7, 8), (80, 31, 9, 10), (80, 31, 13, 16), (80, 31, 19, 21), (80, 31, 25, 26),
    (80, 31, 27, 29), (80, 31, 31, 32), (80, 31, 34, 35), (80, 31, 36, 37), (80, 31, 40, 41), (80, 31, 44, 48),
    (81, 30, 1, 48), (81, 30, 9, 10), (81, 30, 12, 13), (81, 30, 22, 23), (81, 30, 30, 31), (81, 30, 36, 37),
    (81, 30, 38, 39), (81, 30, 42, 43), (81, 30, 45, 46),
    (82, 13, 2, 4), (82, 13, 4, 5), (82, 15, 5, 6), (82, 13, 8, 9), (82, 16, 11, 12), (82, 16, 12, 13),
    (82, 13, 14, 17), (82, 15, 18, 19), (82, 13, 21, 22), (82, 13, 24, 25), (82, 13, 27, 30), (82, 15, 30, 31),
    (82, 15, 32, 33), (82, 15, 34, 35), (82, 13, 35, 36), (82, 13, 37, 38), (82, 13, 41, 42), (82, 13, 44, 45),
    (84, 4, 1, 48), (84, 4, 5, 6), (84, 4, 8, 9), (84, 4, 18, 19), (84, 4, 23, 24), (84, 4, 30, 31),
    (84, 4, 36, 37), (84, 4, 40, 41), (84, 4, 44, 45), (84, 4, 47, 48),
    (85, 5, 1, 48),
    (86, 23, 1, 2), (86, 5, 2, 3), (86, 5, 5, 6), (86, 5, 8, 10), (86, 5, 13, 14), (86, 5, 16, 17),
    (86, 5, 20, 21), (86, 5, 30, 31),
    (87, 6, 16, 17), (87, 6, 38, 40),
    (88, 6, 5, 6), (88, 8, 15, 16), (88, 17, 33, 35), (88, 17, 37, 38),
    (89, 6, 5, 6), (89, 6, 15, 16), (89, 6, 19, 21), (89, 6, 22, 27), (89, 6, 30, 31), (89, 6, 44, 45),
    (90, 15, 15, 17),
    (91, 15, 1, 2), (91, 16, 2, 3), (91, 16, 4, 5), (91, 16, 6, 12), (91, 16, 13, 14), (91, 16, 15, 17),
    (91, 16, 17, 19), (91, 16, 20, 21), (91, 15, 22, 23), (91, 16, 23, 24), (91, 16, 25, 27), (91, 16, 29, 30),
    (91, 16, 38, 39), (91, 16, 40, 41), (91, 16, 43, 44), (91, 16, 47, 48),
    (92, 11, 5, 6), (92, 11, 7, 8), (92, 11, 9, 12), (92, 11, 15, 16), (92, 11, 22, 24), (92, 11, 27, 28),
    (92, 11, 30, 33), (92, 11, 38, 39), (92, 11, 40, 41), (92, 11, 43, 44), (92, 11, 45, 46), (92, 11, 47, 48),
    (93, 25, 16, 17), (93, 21, 24, 25), (93, 25, 28, 29), (93, 21, 33, 34),
    (94, 24, 1, 2), (94, 24, 18, 19), (94, 24, 25, 26), (94, 24, 45, 46),
    (96, 20, 2, 4), (96, 20, 6, 8), (96, 23, 8, 9), (96, 22, 9, 10), (96, 22, 10, 11), (96, 22, 12, 13),
    (96, 22, 14, 15), (96, 22, 17, 18), (96, 22, 20, 21), (96, 22, 23, 25), (96, 22, 27, 28), (96, 22, 29, 35),
    (96, 22, 35, 36), (96, 22, 38, 41), (96, 23, 41, 42), (96, 23, 42, 43), (96, 22, 44, 45), (96, 23, 46, 47),
    (96, 22, 47, 48),
    (97, 21, 5, 6), (97, 21, 14, 15), (97, 21, 16, 17), (97, 21, 17, 18), (97, 21, 25, 26), (97, 21, 28, 29),
    (97, 21, 35, 36), (97, 21, 42, 43), (97, 21, 46, 47),
    (98, 2, 6, 8), (98, 2, 9, 10), (98, 2, 12, 13), (98, 2, 15, 16), (98, 2, 17, 18), (98, 2, 22, 23),
    (98, 2, 24, 25), (98, 2, 28, 30), (98, 2, 32, 35), (98, 2, 37, 38), (98, 2, 42, 43), (98, 2, 46, 48),
    (99, 9, 1, 48),
    (100, 10, 1, 3), (100, 10, 4, 5), (100, 8, 5, 6), (100, 10, 14, 15), (100, 10, 16, 17), (100, 10, 18, 20),
    (100, 10, 22, 36), (100, 10, 37, 38), (100, 10, 40, 41), (100, 10, 43, 44), (100, 10, 45, 46),
    (102, 14, 3, 4), (102, 14, 6, 8), (102, 14, 16, 17), (102, 14, 19, 20), (102, 14, 22, 23),
    (103, 42, 1, 48),
    (104, 1, 1, 48),
    (105, 7, 2, 7), (105, 7, 10, 11), (105, 7, 12, 13), (105, 7, 15, 16), (105, 7, 17, 18), (105, 7, 21, 24),
    (105, 7, 26, 28), (105, 7, 29, 31),
]

cds2_spells = [
    (0, 124, 1, 37), (0, 124, 40, 42), (0, 124, 43, 50),
    (1, 123, 1, 38), (1, 95, 30, 31), (1, 123, 40, 41),
    (2, 107, 2, 4), (2, 107, 11, 14), (2, 107, 19, 22), (2, 107, 24, 27), (2, 107, 32, 34), (2, 107, 42, 43),
    (2, 107, 44, 48),
    (2.6, 105, 1, 39),
    (3, 106, 1, 39), (3, 106, 40, 50),
    (4, 103, 2, 4), (4, 103, 10, 11), (4, 103, 40, 41),
    (5, 96, 5, 6), (5, 96, 7, 9), (5, 111, 11, 12), (5, 98, 12, 13), (5, 98, 14, 15), (5, 98, 16, 17),
    (5, 98, 24, 25), (5, 115, 28, 29), (5, 98, 29, 30), (5, 98, 31, 33), (5, 96, 39, 40), (5, 98, 42, 43),
    (5, 98, 46, 47), (5, 111, 48, 49), (5, 98, 49, 50),
    (6, 111, 1, 2), (6, 109, 2, 3), (6, 111, 6, 7), (6, 111, 11, 12), (6, 102, 12, 13), (6, 111, 18, 19),
    (6, 111, 21, 23), (6, 112, 29, 30), (6, 111, 37, 38), (6, 111, 40, 41), (6, 111, 44, 46), (6, 112, 48, 49),
    (7, 110, 2, 3), (7, 110, 5, 6), (7, 104, 6, 8), (7, 104, 10, 11), (7, 104, 11, 12), (7, 104, 12, 13),
    (7, 110, 14, 15), (7, 110, 17, 18), (7, 104, 19, 20), (7, 110, 20, 21), (7, 104, 22, 23), (7, 104, 28, 29),
    (7, 110, 35, 36), (7, 104, 37, 38), (7, 110, 43, 44), (7, 110, 46, 47), (7, 110, 48, 49),
    (8, 100, 2, 7), (8, 100, 7, 9), (8, 102, 11, 12), (8, 102, 12, 13), (8, 100, 16, 17), (8, 102, 21, 22),
    (8, 100, 23, 24), (8, 100, 25, 26), (8, 100, 29, 32), (8, 100, 33, 34), (8, 100, 39, 40), (8, 100, 43, 44),
    (8, 100, 46, 47), (8, 100, 48, 49),
    (9, 101, 1, 50), (9, 109, 10, 11), (9, 101, 36, 37), (9, 101, 39, 40), (9, 101, 42, 43),
    (10, 102, 1, 50),
    (11, 99, 1, 50),
    (12, 92, 2, 3), (12, 92, 4, 5), (12, 92, 8, 9), (12, 92, 11, 12), (12, 92, 13, 14), (12, 92, 19, 21),
    (12, 92, 26, 27), (12, 92, 28, 29), (12, 92, 41, 42), (12, 92, 48, 49),
    (13, 90, 1, 39), (13, 90, 40, 50),
    (14, 93, 3, 5), (14, 93, 6, 7), (14, 93, 8, 9), (14, 93, 10, 11), (14, 93, 11, 13), (14, 93, 17, 19),
    (14, 93, 29, 31), (14, 93, 34, 36), (14, 93, 42, 44), (14, 93, 45, 46), (14, 93, 48, 49),
    (15, 91, 1, 50), (15, 91, 17, 18), (15, 91, 40, 41),
    (16, 89, 1, 37), (16, 79, 40, 50),
    (17, 115, 38, 40),
    (18, 87, 1, 50),
    (19, 112, 3, 4), (19, 112, 4, 5), (19, 112, 10, 11), (19, 112, 12, 13), (19, 112, 18, 20), (19, 112, 25, 27),
    (19, 112, 29, 30), (19, 112, 31, 33), (19, 112, 41, 43), (19, 112, 45, 47), (19, 112, 49, 50),
    (20, 93, 3, 4), (20, 93, 5, 7), (20, 93, 10, 11), (20, 93, 13, 14), (20, 93, 15, 16), (20, 93, 18, 19),
    (20, 93, 31, 32), (20, 93, 34, 36), (20, 93, 44, 45), (20, 93, 49, 50),
    (21, 85, 1, 50),
    (22, 86, 1, 50),
    (23, 94, 5, 7), (23, 94, 7, 14), (23, 94, 17, 19), (23, 94, 23, 27), (23, 76, 28, 29), (23, 94, 28, 30),
    (23, 94, 31, 33), (23, 94, 33, 34), (23, 76, 34, 35), (23, 94, 43, 44), (23, 76, 46, 47),
    (24, 72, 2, 3), (24, 72, 4, 5), (24, 72, 6, 7), (24, 76, 7, 8), (24, 72, 10, 11), (24, 72, 19, 20),
    (24, 72, 22, 23), (24, 72, 24, 25), (24, 72, 26, 27), (24, 72, 28, 30), (24, 72, 31, 32), (24, 72, 33, 34),
    (24, 72, 35, 36), (24, 72, 37, 38), (24, 72, 40, 41), (24, 72, 44, 45), (24, 72, 46, 47), (24, 72, 49, 50),
    (25, 80, 12, 13), (25, 80, 22, 23), (25, 80, 26, 27),
    (26, 69, 1, 50), (26, 69, 32, 33),
    (27, 83, 2, 3), (27, 79, 3, 4), (27, 83, 5, 6), (27, 83, 11, 12), (27, 83, 14, 15), (27, 83, 16, 17),
    (27, 83, 19, 20), (27, 83, 22, 23), (27, 83, 25, 26), (27, 83, 28, 29), (27, 83, 32, 33), (27, 83, 40, 41),
    (27, 83, 43, 44), (27, 83, 45, 46),
    (28, 84, 2, 3), (28, 77, 3, 4), (28, 85, 7, 8), (28, 85, 13, 14), (28, 85, 18, 19), (28, 85, 24, 25),
    (28, 85, 29, 30), (28, 85, 36, 37), (28, 85, 43, 44), (28, 85, 46, 47),
    (29, 88, 2, 3), (29, 64, 10, 11), (29, 64, 19, 20), (29, 88, 24, 25),
    (30, 80, 1, 2), (30, 87, 2, 3), (30, 82, 6, 9), (30, 83, 11, 12), (30, 82, 12, 13), (30, 82, 14, 15),
    (30, 82, 18, 19), (30, 82, 24, 25), (30, 82, 28, 29), (30, 82, 30, 31), (30, 82, 34, 35), (30, 82, 42, 43),
    (30, 82, 48, 50),
    (31, 75, 1, 3), (31, 80, 4, 5), (31, 80, 10, 11), (31, 80, 11, 12), (31, 80, 18, 19), (31, 80, 24, 25),
    (31, 80, 28, 29), (31, 80, 31, 33), (31, 80, 36, 37), (31, 75, 42, 43), (31, 80, 46, 47),
    (32, 71, 3, 4), (32, 75, 4, 5), (32, 71, 5, 6), (32, 71, 7, 8), (32, 71, 10, 11), (32, 71, 11, 12),
    (32, 75, 15, 16), (32, 71, 19, 20), (32, 71, 22, 23), (32, 74, 24, 25), (32, 71, 28, 30), (32, 71, 40, 41),
    (32, 71, 43, 44), (32, 75, 46, 47), (32, 75, 48, 49), (32, 71, 49, 50),
    (33, 70, 1, 50), (33, 70, 40, 41),
    (34, 67, 1, 2), (34, 67, 6, 7), (34, 67, 10, 15), (34, 67, 17, 18), (34, 67, 19, 20), (34, 67, 22, 23),
    (34, 67, 26, 27), (34, 67, 30, 31), (34, 67, 32, 34), (34, 67, 35, 39), (34, 67, 40, 41), (34, 67, 42, 43),
    (34, 67, 43, 44), (34, 67, 45, 46),
    (36, 66, 1, 2), (36, 66, 3, 5), (36, 61, 7, 8), (36, 66, 10, 15), (36, 66, 16, 17), (36, 66, 17, 18),
    (36, 66, 20, 21), (36, 66, 22, 23), (36, 66, 26, 27), (36, 66, 28, 29), (36, 66, 31, 32), (36, 66, 40, 41),
    (36, 61, 42, 43), (36, 66, 45, 46), (36, 61, 46, 47),
    (37, 65, 1, 50), (37, 61, 17, 19), (37, 61, 20, 22), (37, 61, 44, 45),
    (38, 77, 3, 5), (38, 77, 10, 11), (38, 77, 11, 13), (38, 77, 16, 38), (38, 78, 23, 24), (38, 78, 26, 27),
    (38, 77, 38, 40), (38, 77, 40, 41), (38, 78, 43, 44), (38, 77, 45, 46),
    (38.6, 74, 1, 15),
    (39, 74, 1, 50), (39, 74, 15, 16), (39, 74, 40, 50),
    (40, 68, 26, 28), (40, 68, 31, 33),
    (41, 73, 1, 15), (41, 73, 10, 11), (41, 76, 15, 19), (41, 73, 19, 50), (41, 73, 35, 36), (41, 73, 40, 41),
    (41, 73, 43, 44),
    (42, 72, 1, 2),
    (43, 73, 5, 6), (43, 73, 24, 25), (43, 73, 29, 30), (43, 73, 31, 32),
    (45, 57, 4, 7), (45, 58, 8, 9), (45, 57, 10, 11), (45, 57, 11, 12), (45, 57, 14, 15), (45, 57, 16, 17),
    (45, 69, 17, 18), (45, 57, 24, 25), (45, 57, 34, 37), (45, 57, 41, 42), (45, 57, 46, 47),
    (46, 60, 8, 9),
    (47, 61, 1, 2), (47, 61, 3, 4), (47, 61, 8, 12), (47, 61, 13, 24), (47, 61, 25, 27), (47, 61, 28, 34),
    (47, 61, 35, 37), (47, 61, 40, 42), (47, 61, 46, 50),
    (48, 56, 6, 7), (48, 56, 18, 19),
    (49, 54, 8, 9), (49, 54, 19, 20), (49, 54, 28, 29), (49, 54, 29, 30), (49, 54, 30, 31), (49, 54, 32, 33),
    (49, 54, 34, 35), (49, 54, 41, 42), (49, 54, 45, 47), (49, 54, 48, 49),
    (50, 53, 17, 18), (50, 53, 29, 30),
    (51, 51, 5, 6), (51, 51, 13, 15), (51, 51, 18, 20), (51, 51, 23, 24), (51, 51, 29, 30), (51, 51, 31, 32),
    (51, 51, 33, 34), (51, 51, 40, 41), (51, 51, 45, 47), (51, 51, 48, 49),
    (52, 66, 1, 2), (52, 66, 3, 5), (52, 66, 7, 23), (52, 66, 24, 37), (52, 66, 40, 41), (52, 66, 43, 44),
    (52, 66, 45, 46), (52, 66, 49, 50),
    (54, 64, 3, 4), (54, 64, 22, 23),
    (55, 63, 28, 29), (55, 65, 32, 33),
    (56, 60, 8, 9), (56, 53, 43, 44), (56, 40, 44, 45),
    (57, 57, 8, 9), (57, 59, 25, 26), (57, 55, 34, 35), (57, 56, 46, 47),
    (58, 60, 1, 5), (58, 52, 5, 6), (58, 47, 6, 7), (58, 52, 7, 8), (58, 56, 8, 10), (58, 60, 11, 12),
    (58, 52, 12, 13), (58, 52, 14, 15), (58, 60, 17, 18), (58, 52, 18, 19), (58, 60, 19, 20), (58, 60, 21, 25),
    (58, 60, 26, 27), (58, 60, 28, 29), (58, 57, 29, 30), (58, 60, 30, 32), (58, 52, 33, 34), (58, 55, 34, 37),
    (58, 52, 40, 41), (58, 60, 41, 44), (58, 50, 45, 47), (58, 52, 49, 50),
    (59, 58, 10, 11), (59, 59, 45, 46), (59, 58, 49, 50),
    (60, 58, 3, 5), (60, 56, 10, 11), (60, 53, 17, 18), (60, 58, 24, 26), (60, 58, 26, 27), (60, 58, 28, 29),
    (60, 58, 49, 50),
    (61, 59, 3, 10), (61, 62, 11, 12), (61, 62, 14, 15), (61, 60, 18, 19), (61, 62, 24, 25), (61, 59, 29, 30),
    (61, 62, 34, 37), (61, 62, 40, 41), (61, 62, 43, 47), (61, 62, 49, 50),
    (63, 58, 20, 21),
    (64, 39, 1, 2), (64, 35, 10, 11), (64, 37, 11, 12), (64, 25, 29, 30), (64, 28, 32, 34), (64, 37, 34, 35),
    (64, 37, 36, 37),
    (65, 43, 5, 6), (65, 43, 8, 9), (65, 43, 12, 15), (65, 43, 16, 18), (65, 43, 24, 25), (65, 43, 26, 27),
    (65, 43, 29, 30), (65, 43, 47, 48),
    (66, 39, 12, 13), (66, 25, 18, 19), (66, 25, 22, 23), (66, 25, 31, 32), (66, 33, 47, 48),
    (67, 45, 3, 6), (67, 45, 7, 8), (67, 45, 10, 12), (67, 45, 14, 15), (67, 45, 16, 18), (67, 45, 20, 21),
    (67, 45, 23, 24), (67, 45, 25, 27), (67, 45, 28, 30), (67, 45, 33, 34), (67, 45, 35, 36), (67, 45, 40, 47),
    (67, 45, 49, 50),
    (68, 31, 8, 9), (68, 30, 11, 12), (68, 27, 12, 14), (68, 37, 28, 29), (68, 37, 30, 31), (68, 31, 32, 33),
    (68, 31, 43, 44),
    (69, 30, 11, 12), (69, 30, 14, 15), (69, 30, 19, 20), (69, 30, 23, 24), (69, 30, 43, 44), (69, 30, 46, 47),
    (70, 30, 23, 24), (70, 30, 46, 47),
    (71, 26, 3, 4), (71, 26, 5, 6), (71, 29, 7, 8), (71, 28, 11, 12), (71, 26, 13, 14), (71, 28, 16, 17),
    (71, 26, 18, 19), (71, 28, 25, 26), (71, 26, 29, 30), (71, 26, 31, 32), (71, 26, 33, 34), (71, 29, 35, 36),
    (71, 29, 40, 41), (71, 28, 43, 44), (71, 26, 46, 47), (71, 26, 49, 50),
    (72, 44, 5, 6), (72, 34, 7, 8), (72, 34, 11, 13), (72, 44, 14, 15), (72, 41, 17, 18), (72, 46, 21, 22),
    (72, 34, 24, 25), (72, 44, 26, 29), (72, 34, 31, 32), (72, 40, 42, 43), (72, 34, 44, 45), (72, 37, 46, 47),
    (72, 42, 47, 48),
    (74, 41, 1, 6), (74, 41, 7, 8), (74, 41, 11, 12), (74, 41, 13, 18), (74, 41, 19, 23), (74, 41, 25, 27),
    (74, 41, 33, 36), (74, 41, 40, 41), (74, 41, 43, 44), (74, 41, 46, 47), (74, 41, 48, 50),
    (75, 38, 5, 6), (75, 38, 23, 24), (75, 38, 28, 29), (75, 38, 35, 36), (75, 38, 41, 42), (75, 38, 48, 49),
    (76, 35, 24, 25), (76, 36, 3, 4),
    (77, 36, 5, 6), (77, 36, 6, 7), (77, 36, 10, 11), (77, 36, 12, 15), (77, 26, 16, 17), (77, 36, 29, 31),
    (77, 36, 31, 33), (77, 36, 36, 37), (77, 30, 46, 47),
    (78, 34, 2, 5), (78, 35, 7, 8), (78, 34, 10, 12), (78, 35, 12, 15), (78, 26, 15, 16), (78, 35, 18, 20),
    (78, 35, 20, 22), (78, 34, 23, 25), (78, 34, 26, 27), (78, 34, 28, 38), (78, 35, 34, 35), (78, 34, 40, 41),
    (78, 35, 42, 44), (78, 35, 45, 47), (78, 34, 49, 50),
    (79, 39, 4, 5), (79, 33, 11, 12), (79, 33, 13, 14), (79, 33, 18, 19), (79, 33, 23, 24),
    (80, 29, 49, 50),
    (81, 17, 14, 17), (81, 17, 21, 23), (81, 17, 26, 27), (81, 17, 31, 33), (81, 17, 34, 36), (81, 17, 39, 40),
    (81, 17, 46, 47),
    (82, 6, 1, 3), (82, 5, 4, 5), (82, 5, 7, 8), (82, 5, 11, 14), (82, 5, 18, 19), (82, 5, 21, 24),
    (82, 5, 25, 26), (82, 5, 28, 29), (82, 5, 31, 32), (82, 5, 41, 43), (82, 5, 45, 46), (82, 5, 47, 50),
    (84, 9, 5, 6), (84, 9, 7, 8), (84, 9, 10, 14), (84, 6, 15, 18), (84, 9, 19, 20), (84, 9, 22, 23),
    (84, 9, 26, 27), (84, 9, 28, 30), (84, 9, 31, 32), (84, 9, 34, 35), (84, 4, 38, 39), (84, 9, 40, 41),
    (84, 9, 43, 45), (84, 9, 46, 47), (84, 9, 49, 50),
    (85, 13, 10, 14), (85, 13, 12, 13), (85, 13, 18, 19), (85, 13, 26, 27), (85, 13, 46, 50), (85, 13, 49, 50),
    (86, 13, 10, 11), (86, 13, 26, 27), (86, 13, 46, 47), (86, 13, 49, 50),
    (87, 12, 1, 50), (87, 12, 3, 5), (87, 12, 39, 40), (87, 12, 42, 43), (87, 12, 46, 47),
    (88, 18, 3, 4), (88, 16, 5, 6), (88, 18, 8, 9), (88, 18, 13, 14), (88, 18, 18, 19), (88, 16, 42, 43),
    (88, 18, 46, 47),
    (89, 6, 2, 4), (89, 18, 5, 6), (89, 6, 7, 8), (89, 6, 11, 12), (89, 6, 13, 14), (89, 6, 18, 19),
    (89, 6, 24, 26), (89, 6, 28, 30), (89, 6, 32, 34), (89, 6, 43, 44), (89, 8, 46, 47),
    (91, 24, 1, 2), (91, 24, 5, 6), (91, 24, 7, 8), (91, 24, 10, 11), (91, 24, 11, 12), (91, 24, 12, 13),
    (91, 23, 18, 20), (91, 24, 23, 24), (91, 24, 25, 26), (91, 24, 26, 27), (91, 24, 28, 30), (91, 24, 39, 40),
    (91, 23, 41, 42), (91, 24, 45, 46), (91, 24, 46, 47), (91, 24, 47, 48),
    (92, 22, 2, 4), (92, 23, 4, 7), (92, 22, 8, 9), (92, 22, 10, 11), (92, 22, 12, 13), (92, 23, 14, 16),
    (92, 22, 20, 22), (92, 22, 23, 25), (92, 22, 26, 27), (92, 22, 28, 30), (92, 23, 30, 32), (92, 22, 33, 35),
    (92, 22, 36, 38), (92, 22, 42, 44), (92, 22, 46, 48),
    (93, 26, 23, 24), (93, 22, 28, 29),
    (94, 17, 28, 29), (94, 16, 30, 31), (94, 17, 32, 33), (94, 16, 46, 47),
    (95, 2, 4, 5), (95, 2, 6, 7), (95, 1, 7, 8), (95, 2, 10, 11), (95, 4, 11, 14), (95, 1, 16, 17),
    (95, 2, 18, 20), (95, 1, 20, 22), (95, 2, 22, 24), (95, 2, 24, 27), (95, 4, 28, 30), (95, 4, 32, 34),
    (95, 2, 38, 39), (95, 2, 40, 42), (95, 2, 45, 46), (95, 2, 48, 49), (95, 1, 49, 50),
    (97, 13, 1, 2), (97, 13, 3, 4), (97, 13, 6, 10), (97, 15, 17, 18), (97, 15, 42, 43), (97, 13, 45, 47),
    (97, 15, 48, 49),
    (98, 18, 1, 2), (98, 14, 11, 13), (98, 14, 14, 15), (98, 14, 19, 24), (98, 14, 25, 27), (98, 14, 28, 34),
    (98, 14, 35, 37), (98, 14, 40, 41), (98, 14, 43, 44), (98, 14, 45, 50),
    (99, 11, 1, 27), (99, 11, 28, 50), (99, 11, 38, 39),
    (100, 7, 1, 50),
    (101, 8, 25, 26), (101, 6, 31, 33), (101, 6, 43, 44),
    (102, 21, 3, 4), (102, 21, 16, 17), (102, 21, 18, 19), (102, 21, 26, 27), (102, 21, 29, 30), (102, 21, 34, 35),
    (102, 21, 48, 50),
    (103, 20, 1, 40), (103, 10, 42, 50), (103, 20, 29, 30),
    (104, 20, 1, 2), (104, 47, 40, 41), (104, 46, 41, 42),
    (105, 46, 2, 3), (105, 46, 5, 7), (105, 46, 13, 15), (105, 46, 16, 17), (105, 46, 19, 22), (105, 46, 29, 30),
    (105, 46, 32, 33), (105, 46, 34, 35), (105, 46, 41, 42), (105, 46, 43, 44), (105, 46, 46, 47), (105, 46, 49, 50),
]

ticks_48 = [0, 10, 20, 30, 40]
ticks_50 = [0, 10, 20, 30, 40, 50]

LINE_COL = '#a8a8d4'
TEXT_COL = '#2424d8'
FRAME_COL = '#404040'

fig = plt.figure(figsize=(W / 100, H / 100), dpi=100)


def px_axes(left, top, right, bottom):
    return fig.add_axes([left / W, 1 - bottom / H, (right - left) / W, (bottom - top) / H])


# spells, ticks, title, box in pixels (l, t, r, b), xlim, ylim (rows, top at small values)
panels = [
    (cs1_spells, ticks_48, 'CS 1', (42.7, 34, 525, 335), (-0.94, 49.4), (84.6, -3.2)),
    (cs2_spells, ticks_50, 'CS 2', (594.5, 34, 1076.5, 335), (-1.0, 51.5), (73.0, -2.8)),
    (cds1_spells, ticks_48, 'CDS 1', (42.7, 452, 525, 749), (-0.94, 49.4), (108.0, -3.4)),
    (cds2_spells, ticks_50, 'CDS 2', (594.5, 452, 1076.5, 749), (-1.0, 51.5), (108.0, -3.4)),
]

for spells, ticks, title, box, xl, yl in panels:
    l, t, r, b = box
    ax = px_axes(l, t, r, b)
    segs = [[(on, row), (off, row)] for row, v, on, off in spells]
    ax.add_collection(LineCollection(segs, colors=LINE_COL, linewidths=0.8, zorder=1))
    for row, v, on, off in spells:
        ax.text(on + 0.25, row, str(v), fontsize=3.9, color=TEXT_COL,
                ha='center', va='center', zorder=2)
    ax.set_xlim(*xl)
    ax.set_ylim(*yl)
    ax.set_xticks(ticks)
    ax.set_yticks([])
    ax.tick_params(axis='x', direction='out', length=4.7, width=0.8, color=FRAME_COL,
                   labelsize=7.5, pad=7)
    for s in ax.spines.values():
        s.set_color(FRAME_COL)
        s.set_linewidth(0.9)
    cx = (l + r) / 2
    fig.text(cx / W, 1 - (t - 25) / H, title, ha='center', va='center',
             fontsize=8.5, fontweight='bold')
    fig.text(cx / W, 1 - (b + 48) / H, 'time', ha='center', va='center', fontsize=7.5)
    fig.text((l - 33.7) / W, 1 - ((t + b) / 2) / H, 'vertex activity', rotation=90,
             ha='center', va='center', fontsize=7.5)

fig.savefig('out.png', dpi=100)
